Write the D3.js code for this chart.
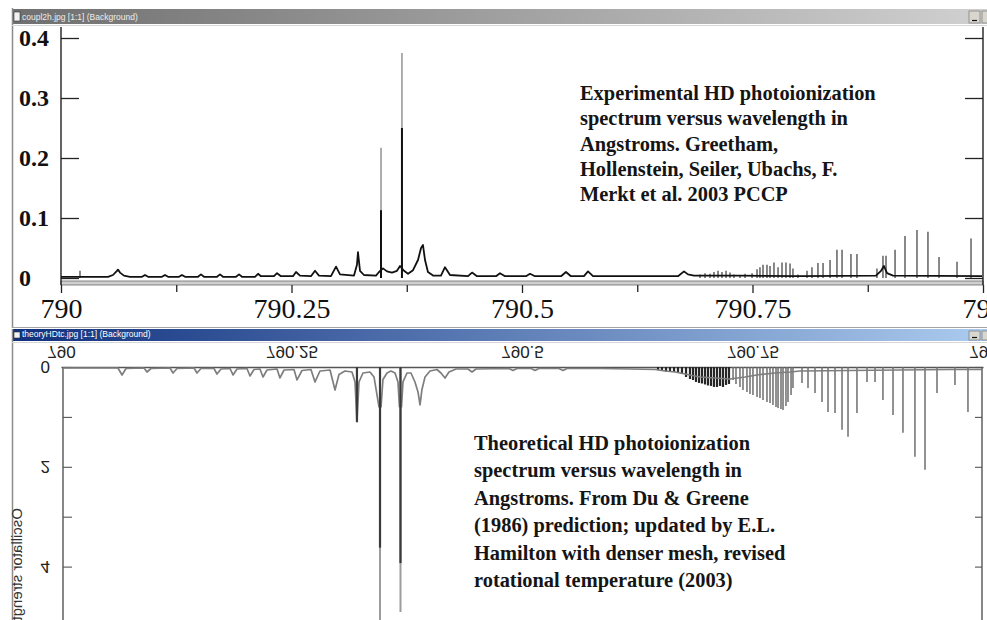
<!DOCTYPE html>
<html>
<head>
<meta charset="utf-8">
<script src="https://cdn.jsdelivr.net/npm/d3@7"></script>
<style>
  html, body { margin: 0; padding: 0; background: #fff; overflow: hidden; }
  svg { display: block; }
</style>
</head>
<body>
<svg id="chart" width="987" height="620"></svg>
<script>
// ---------------- data ----------------
// Experimental HD photoionization spectrum (wavelength in Å, intensity)
const expTrace = [
  [790.0000,.002],[790.0152,.002],[790.0510,.002],[790.0564,.005],[790.0607,.012],[790.0618,.014],[790.0640,.009],[790.0683,.004],[790.0748,.002],
  [790.0879,.002],[790.0911,.005],[790.0944,.002],
  [790.1095,.002],[790.1128,.005],[790.1161,.002],
  [790.1280,.002],[790.1312,.005],[790.1345,.002],
  [790.1486,.002],[790.1518,.006],[790.1551,.002],
  [790.1692,.002],[790.1725,.006],[790.1757,.002],
  [790.1898,.002],[790.1931,.006],[790.1963,.002],
  [790.2104,.002],[790.2137,.007],[790.2169,.003],
  [790.2310,.003],[790.2343,.008],[790.2386,.003],
  [790.2516,.003],[790.2549,.010],[790.2592,.004],
  [790.2711,.003],[790.2755,.012],[790.2798,.004],
  [790.2928,.003],[790.2983,.019],[790.3026,.006],
  [790.3178,.004],[790.3210,.022],[790.3221,.043],[790.3243,.012],[790.3286,.005],
  [790.3416,.004],[790.3449,.010],[790.3492,.016],[790.3536,.011],[790.3590,.009],[790.3644,.012],[790.3677,.020],
  [790.3720,.012],[790.3764,.007],[790.3818,.013],[790.3872,.030],[790.3905,.050],[790.3926,.055],[790.3948,.030],[790.3980,.010],[790.4035,.004],
  [790.4121,.004],[790.4165,.018],[790.4219,.005],
  [790.4414,.003],[790.4458,.009],[790.4512,.003],
  [790.4718,.003],[790.4761,.008],[790.4816,.003],
  [790.5043,.003],[790.5087,.007],[790.5141,.003],
  [790.5423,.003],[790.5477,.010],[790.5531,.003],
  [790.5672,.003],[790.5716,.011],[790.5770,.003],
  [790.6063,.003],[790.6388,.003],
  [790.6692,.003],[790.6757,.011],[790.6800,.006],[790.6866,.004],
  [790.7364,.004],[790.8015,.003],
  [790.8839,.004],[790.8894,.012],[790.8926,.020],[790.8959,.008],[790.9024,.004],
  [790.9990,.003]
];
// narrow resolved lines: [wavelength, intensity]
const expLines = [
  [790.0206,.012],
  [790.6931,.006],[790.6985,.008],[790.7039,.007],[790.7082,.010],[790.7126,.012],[790.7169,.010],[790.7213,.012],[790.7256,.009],[790.7299,.006],[790.7364,.005],[790.7419,.007],
  [790.7495,.008],[790.7549,.0145],[790.7581,.018],[790.7614,.022],[790.7657,.022],[790.7690,.020],[790.7733,.026],[790.7777,.018],[790.7820,.026],[790.7863,.026],[790.7907,.024],[790.7939,.016],[790.7993,.006],
  [790.8091,.012],[790.8145,.018],[790.8210,.025],[790.8265,.025],[790.8341,.030],[790.8416,.047],[790.8471,.047],[790.8568,.040],[790.8633,.040],
  [790.8850,.016],[790.8915,.037],[790.8948,.037],[790.9046,.047],[790.9154,.070],[790.9284,.080],[790.9403,.077],[790.9523,.035],[790.9718,.027],[790.9870,.066]
];
// strong lines: [wavelength, peak, dense core]
const expStrongLines = [[790.3471,.217,.113],[790.3698,.375,.250]];

// Theoretical spectrum (oscillator strength, plotted downward)
const theoTrace = [
  [790.0022,.02],[790.0618,.02],[790.0662,.16],[790.0705,.03],
  [790.0900,.02],[790.0933,.10],[790.0976,.03],
  [790.1182,.02],[790.1215,.12],[790.1258,.03],
  [790.1443,.02],[790.1475,.12],[790.1518,.03],
  [790.1659,.03],[790.1692,.14],[790.1735,.04],
  [790.1833,.03],[790.1866,.16],[790.1909,.04],
  [790.2017,.03],[790.2050,.18],[790.2093,.05],
  [790.2158,.04],[790.2191,.20],[790.2234,.06],
  [790.2343,.04],[790.2375,.22],[790.2419,.06],
  [790.2527,.05],[790.2560,.26],[790.2614,.07],
  [790.2711,.05],[790.2755,.30],[790.2809,.08],
  [790.2918,.06],[790.2972,.46],[790.3015,.15],[790.3080,.08],
  [790.3156,.10],[790.3189,.30],[790.3210,1.10],[790.3232,.30],[790.3275,.12],
  [790.3351,.10],[790.3395,.20],[790.3449,.80],[790.3471,.80],[790.3492,.25],
  [790.3536,.12],[790.3579,.08],[790.3623,.12],[790.3655,.30],[790.3671,.80],[790.3693,.80],[790.3709,.30],
  [790.3753,.12],[790.3796,.12],[790.3839,.30],[790.3872,.50],[790.3894,.76],[790.3915,.45],[790.3948,.20],[790.4002,.08],
  [790.4078,.05],[790.4121,.12],[790.4165,.22],[790.4208,.10],[790.4284,.04],
  [790.4414,.04],[790.4458,.10],[790.4501,.04],
  [790.4859,.03],[790.4902,.07],[790.4946,.03],
  [790.5098,.03],[790.5141,.07],[790.5184,.03],
  [790.5401,.03],[790.5445,.07],[790.5488,.03],
  [790.5846,.03],[790.6171,.04],[790.6443,.05],[790.6551,.08],[790.6659,.10],[790.6768,.14],
  [790.6931,.20],[790.7093,.22],[790.7256,.24],[790.7419,.20],[790.7581,.15],[790.7744,.12],[790.7907,.10],
  [790.8015,.08],[790.8557,.07],[790.9100,.06],[790.9642,.05],[790.9990,.05]
];
// dense dark band of unresolved lines
const theoBand = [
  [790.6475,.06],[790.6518,.08],[790.6562,.09],[790.6605,.10],[790.6649,.10],[790.6692,.12],[790.6735,.14],
  [790.6779,.20],[790.6822,.24],[790.6855,.26],[790.6887,.30],[790.6920,.32],[790.6952,.33],[790.6985,.35],
  [790.7017,.37],[790.7050,.38],[790.7082,.40],[790.7115,.40],[790.7148,.38],[790.7180,.40],[790.7213,.36],[790.7245,.34]
];
// individual computed lines: [wavelength, oscillator strength]
const theoLines = [
  [790.7289,.26],[790.7321,.34],[790.7364,.40],[790.7397,.46],[790.7440,.50],[790.7473,.54],[790.7505,.56],
  [790.7549,.60],[790.7581,.62],[790.7614,.66],[790.7657,.70],[790.7690,.72],[790.7722,.76],[790.7755,.80],
  [790.7777,.82],[790.7809,.84],[790.7831,.86],[790.7863,.78],[790.7885,.70],[790.7918,.56],[790.7939,.42],
  [790.8037,.32],[790.8102,.42],[790.8178,.52],[790.8254,.70],[790.8319,.90],[790.8395,.92],[790.8471,1.26],
  [790.8536,1.40],[790.8633,.92],[790.8742,.30],[790.8829,.30],[790.8915,.66],[790.9024,.96],[790.9132,1.32],
  [790.9262,1.80],[790.9371,2.06],[790.9501,.52],[790.9696,.36],[790.9837,.90]
];
// strong computed lines: [wavelength, peak, dense core]
const theoStrongLines = [[790.3210,1.10,1.10],[790.3460,5.30,3.62],[790.3682,4.91,3.93]];

// axes
const xMajor = [790, 790.25, 790.5, 790.75, 791];
const xMajorLabels = ["790", "790.25", "790.5", "790.75", "791"];
const xMinor = [790.125, 790.375, 790.625, 790.875];
const topYTicks = [0, 0.1, 0.2, 0.3, 0.4];
const topYLabels = ["0", "0.1", "0.2", "0.3", "0.4"];
const botYTicks = [0, 1, 2, 3, 4];
const botYLabels = ["0", "", "2", "", "4"];
const botYTitle = "Oscillator strength";

const topNote = [
  "Experimental HD photoionization",
  "spectrum versus wavelength in",
  "Angstroms. Greetham,",
  "Hollenstein, Seiler, Ubachs, F.",
  "Merkt et al. 2003 PCCP"
];
const botNote = [
  "Theoretical HD photoionization",
  "spectrum versus wavelength in",
  "Angstroms.  From Du & Greene",
  "(1986) prediction; updated by E.L.",
  "Hamilton with denser mesh, revised",
  "rotational temperature (2003)"
];
const topWindowTitle = "coupl2h.jpg [1:1] (Background)";
const botWindowTitle = "theoryHDtc.jpg [1:1] (Background)";

// ---------------- drawing ----------------
const svg = d3.select("#chart");
const serif = "'Liberation Serif','Times New Roman',serif";
const sans = "'Liberation Sans',Arial,sans-serif";

const defs = svg.append("defs");
function gradient(id, c0, c1) {
  const g = defs.append("linearGradient").attr("id", id);
  g.append("stop").attr("offset", "0%").attr("stop-color", c0);
  g.append("stop").attr("offset", "100%").attr("stop-color", c1);
}
gradient("barGray", "#6f6f6f", "#d2d2d2");
gradient("barBlue", "#10307e", "#adcdf0");

// image-viewer window frames
function windowFrame(y0, y1, barY, barH, fill, title, textColor) {
  const g = svg.append("g");
  g.append("rect").attr("x", 12).attr("y", barY).attr("width", 990).attr("height", barH).attr("fill", fill);
  g.append("line").attr("x1", 12.5).attr("x2", 12.5).attr("y1", y0).attr("y2", y1)
    .attr("stroke", "#8c8c8c").attr("stroke-width", 1.5);
  g.append("line").attr("x1", 12).attr("x2", 987).attr("y1", barY + barH + 1.5).attr("y2", barY + barH + 1.5)
    .attr("stroke", "#d6d6d6").attr("stroke-width", 1);
  g.append("rect").attr("x", 14).attr("y", barY + 3).attr("width", 6).attr("height", barH - 6)
    .attr("fill", "#f2f2f2").attr("stroke", "#333").attr("stroke-width", 0.6);
  g.append("text").attr("x", 22).attr("y", barY + barH - 4).attr("font-family", sans)
    .attr("font-size", 8.5).attr("fill", textColor).text(title);
  g.append("rect").attr("x", 969).attr("y", barY + 2).attr("width", 11).attr("height", barH - 3)
    .attr("fill", "#d9d6ce").attr("stroke", "#7a7a7a").attr("stroke-width", 0.7);
  g.append("line").attr("x1", 972).attr("x2", 977).attr("y1", barY + barH - 3.5).attr("y2", barY + barH - 3.5)
    .attr("stroke", "#111").attr("stroke-width", 1.2);
  g.append("rect").attr("x", 982).attr("y", barY + 2).attr("width", 11).attr("height", barH - 3)
    .attr("fill", "#d9d6ce").attr("stroke", "#7a7a7a").attr("stroke-width", 0.7);
}
windowFrame(8, 328, 9, 15, "url(#barGray)", topWindowTitle, "#ececec");
windowFrame(329, 620, 329, 12, "url(#barBlue)", botWindowTitle, "#ffffff");
svg.append("line").attr("x1", 12).attr("x2", 987).attr("y1", 327.5).attr("y2", 327.5)
  .attr("stroke", "#a4a4a4").attr("stroke-width", 1);

// shared wavelength scale
const x = d3.scaleLinear().domain([790, 791]).range([61, 983]);

// ===== upper panel: experiment =====
const yTop = d3.scaleLinear().domain([0, 0.4]).range([278, 38]);
const upper = svg.append("g");

// x axis: grey double rule with ticks below
upper.append("rect").attr("x", x(790)).attr("y", 281).attr("width", x(791) - x(790)).attr("height", 4)
  .attr("fill", "#cfcfcf").attr("stroke", "#6a6a6a").attr("stroke-width", 0.8);
const upperXAxis = upper.append("g").attr("transform", "translate(0,285)")
  .call(d3.axisBottom(x).tickValues(xMajor).tickSize(8).tickPadding(5)
    .tickFormat((d, i) => xMajorLabels[i]));
upperXAxis.select(".domain").remove();
upperXAxis.selectAll("line").attr("stroke", "#222").attr("stroke-width", 1.3);
upperXAxis.selectAll("text").attr("font-family", serif).attr("font-size", 28).attr("fill", "#111");
const upperXMinor = upper.append("g").attr("transform", "translate(0,285)")
  .call(d3.axisBottom(x).tickValues(xMinor).tickSize(7).tickFormat(""));
upperXMinor.select(".domain").remove();
upperXMinor.selectAll("line").attr("stroke", "#222").attr("stroke-width", 1.3);

// y axes on both sides, ticks pointing inward
const upperLeft = upper.append("g").attr("transform", `translate(${x(790)},0)`)
  .call(d3.axisRight(yTop).tickValues(topYTicks).tickSize(18).tickFormat(""));
upperLeft.select(".domain").remove();
const upperRight = upper.append("g").attr("transform", `translate(${x(791)},0)`)
  .call(d3.axisLeft(yTop).tickValues(topYTicks).tickSize(18).tickFormat(""));
upperRight.select(".domain").remove();
[upperLeft, upperRight].forEach(a => a.selectAll("line").attr("stroke", "#222").attr("stroke-width", 1.3));
[x(790), x(791)].forEach(px => upper.append("line").attr("x1", px).attr("x2", px)
  .attr("y1", 27).attr("y2", 285).attr("stroke", "#222").attr("stroke-width", 1.4));
upper.selectAll(".ylab").data(topYTicks).join("text").attr("class", "ylab")
  .attr("x", 19).attr("y", d => yTop(d) + 8)
  .attr("font-family", serif).attr("font-weight", "bold").attr("font-size", 24).attr("fill", "#111")
  .text((d, i) => topYLabels[i]);

// spectrum
upper.selectAll(".sline").data(expLines).join("line").attr("class", "sline")
  .attr("x1", d => x(d[0])).attr("x2", d => x(d[0]))
  .attr("y1", yTop(0)).attr("y2", d => yTop(d[1]))
  .attr("stroke", "#3a3a3a").attr("stroke-width", 1.2);
upper.selectAll(".strong").data(expStrongLines).join("line").attr("class", "strong")
  .attr("x1", d => x(d[0])).attr("x2", d => x(d[0]))
  .attr("y1", yTop(0)).attr("y2", d => yTop(d[1]))
  .attr("stroke", "#9a9a9a").attr("stroke-width", 1.6);
upper.selectAll(".core").data(expStrongLines).join("line").attr("class", "core")
  .attr("x1", d => x(d[0])).attr("x2", d => x(d[0]))
  .attr("y1", yTop(0)).attr("y2", d => yTop(d[2]))
  .attr("stroke", "#111").attr("stroke-width", 2);
upper.append("path").datum(expTrace)
  .attr("d", d3.line().x(d => x(d[0])).y(d => yTop(d[1])))
  .attr("fill", "none").attr("stroke", "#111").attr("stroke-width", 1.8).attr("stroke-linejoin", "round");

// caption
upper.append("text").attr("font-family", serif).attr("font-weight", "bold").attr("font-size", 20.4).attr("fill", "#151515")
  .selectAll("tspan").data(topNote).join("tspan")
  .attr("x", 580).attr("y", (d, i) => 100 + i * 25.3).text(d => d);

// ===== lower panel: theory, shown mirrored top-to-bottom =====
const yBot = d3.scaleLinear().domain([0, 5]).range([367, 616.5]);
const lower = svg.append("g");

const lowerXAxis = lower.append("g").attr("transform", "translate(0,367)")
  .call(d3.axisTop(x).tickValues(xMajor).tickSize(0).tickFormat((d, i) => xMajorLabels[i]));
lowerXAxis.select(".domain").attr("stroke", "#555").attr("stroke-width", 1.4);
lowerXAxis.selectAll("text")
  .attr("y", 0).attr("dy", "0.35em").attr("transform", "translate(0,-15) scale(1,-1)")
  .attr("font-family", sans).attr("font-size", 17).attr("fill", "#222");

const lowerLeft = lower.append("g").attr("transform", `translate(${x(790) + 2},0)`)
  .call(d3.axisRight(yBot).tickValues(botYTicks).tickSize(9).tickFormat(""));
lowerLeft.select(".domain").remove();
const lowerRight = lower.append("g").attr("transform", `translate(${x(791) - 1},0)`)
  .call(d3.axisLeft(yBot).tickValues(botYTicks).tickSize(7).tickFormat(""));
lowerRight.select(".domain").remove();
[lowerLeft, lowerRight].forEach(a => a.selectAll("line").attr("stroke", "#555").attr("stroke-width", 1.1));
[x(790) + 2, x(791) - 1].forEach(px => lower.append("line").attr("x1", px).attr("x2", px)
  .attr("y1", 367).attr("y2", 620).attr("stroke", "#555").attr("stroke-width", 1.4));

lower.selectAll(".ylab").data(botYTicks).join("text").attr("class", "ylab")
  .attr("transform", d => `translate(50,${yBot(d)}) scale(1,-1)`)
  .attr("dy", "0.35em").attr("text-anchor", "end")
  .attr("font-family", sans).attr("font-size", 17).attr("fill", "#222")
  .text((d, i) => botYLabels[i]);
lower.append("text").attr("transform", "translate(17,508) scale(1,-1) rotate(-90)")
  .attr("dy", "0.35em").attr("font-family", sans).attr("font-size", 15).attr("fill", "#333")
  .text(botYTitle);

lower.selectAll(".band").data(theoBand).join("line").attr("class", "band")
  .attr("x1", d => x(d[0])).attr("x2", d => x(d[0]))
  .attr("y1", yBot(0)).attr("y2", d => yBot(d[1]))
  .attr("stroke", "#262626").attr("stroke-width", 2.2);
lower.selectAll(".tline").data(theoLines).join("line").attr("class", "tline")
  .attr("x1", d => x(d[0])).attr("x2", d => x(d[0]))
  .attr("y1", yBot(0)).attr("y2", d => yBot(d[1]))
  .attr("stroke", "#6e6e6e").attr("stroke-width", 1.5);
lower.append("path").datum(theoTrace)
  .attr("d", d3.line().x(d => x(d[0])).y(d => yBot(d[1])))
  .attr("fill", "none").attr("stroke", "#7e7e7e").attr("stroke-width", 1.7).attr("stroke-linejoin", "round");
lower.selectAll(".strong").data(theoStrongLines).join("line").attr("class", "strong")
  .attr("x1", d => x(d[0])).attr("x2", d => x(d[0]))
  .attr("y1", yBot(0)).attr("y2", d => yBot(d[1]))
  .attr("stroke", "#9c9c9c").attr("stroke-width", 2);
lower.selectAll(".core").data(theoStrongLines).join("line").attr("class", "core")
  .attr("x1", d => x(d[0])).attr("x2", d => x(d[0]))
  .attr("y1", yBot(0)).attr("y2", d => yBot(d[2]))
  .attr("stroke", "#3a3a3a").attr("stroke-width", 2.2);

lower.append("text").attr("font-family", serif).attr("font-weight", "bold").attr("font-size", 20.4).attr("fill", "#151515")
  .selectAll("tspan").data(botNote).join("tspan")
  .attr("x", 474).attr("y", (d, i) => 450 + i * 27.4).text(d => d);
</script>
</body>
</html>
